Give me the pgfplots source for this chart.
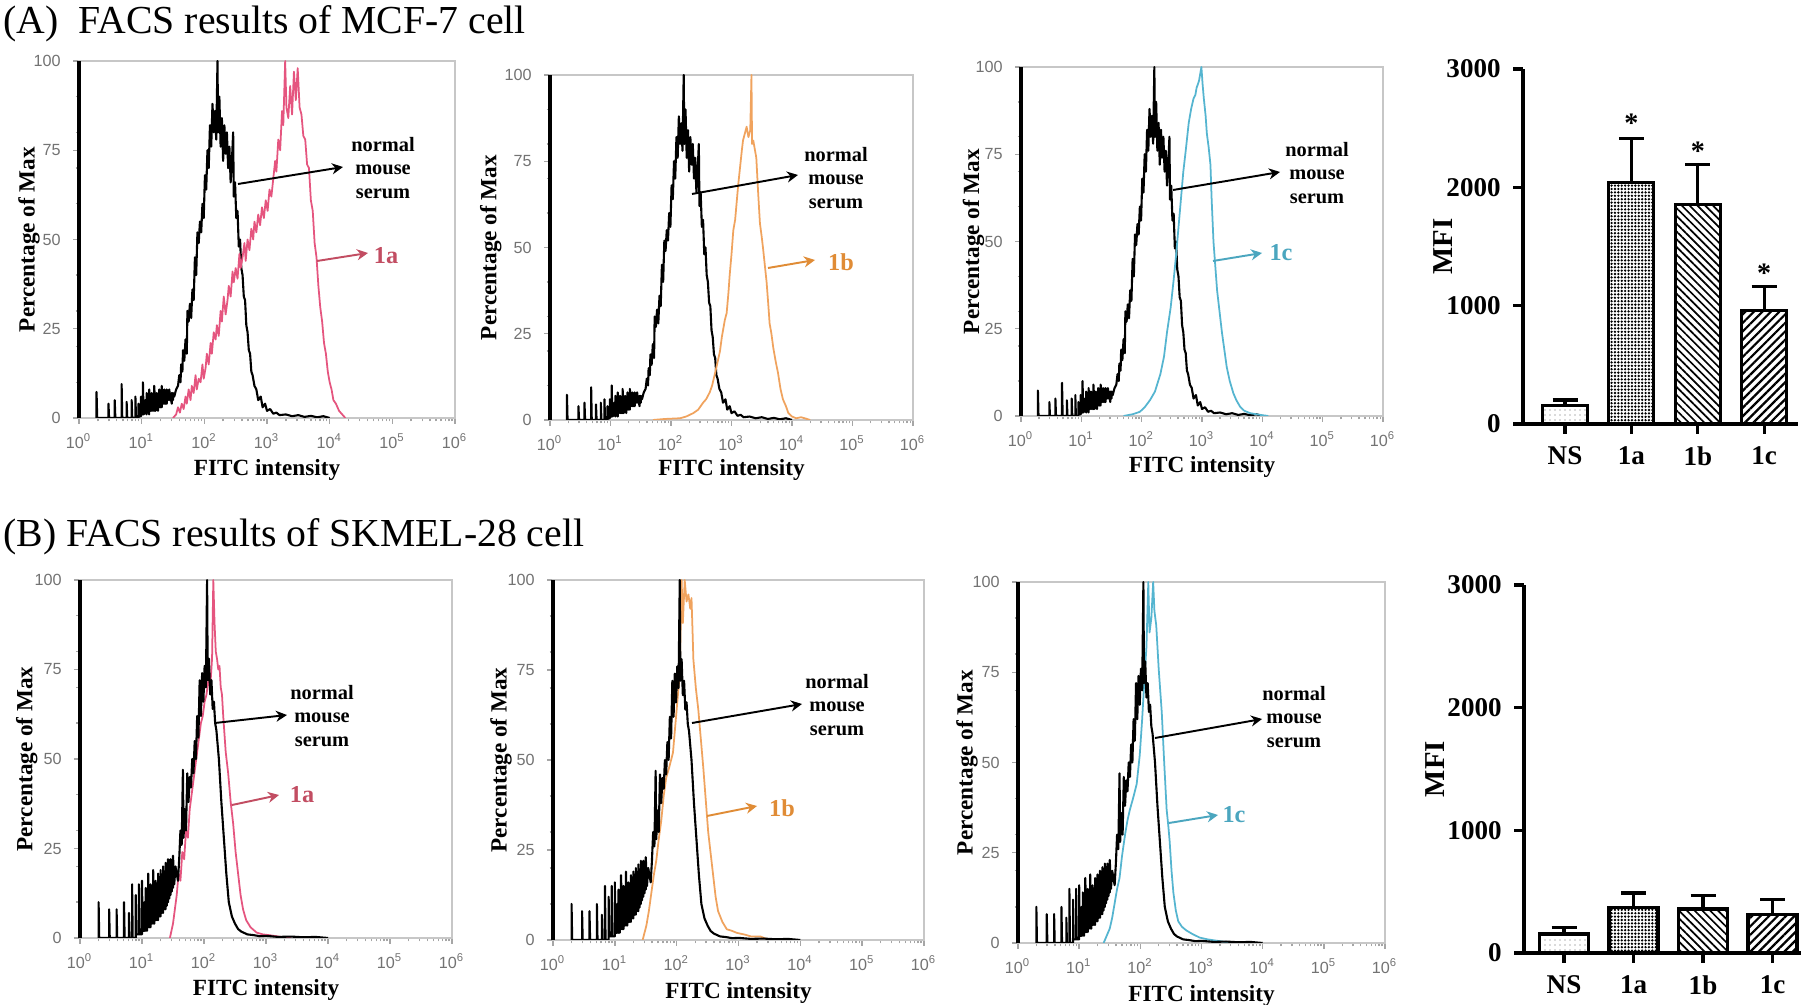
\documentclass[border=0pt]{standalone}
\usepackage{fontspec}
\setmainfont{Liberation Serif}
\newfontfamily\sansf{Liberation Sans}
\usepackage{pgfplots}
\pgfplotsset{compat=1.18}
\usepackage{pgfplotstable}
\usetikzlibrary{patterns.meta,arrows.meta}

\definecolor{pinkc}{HTML}{E5557F}
\definecolor{pinkt}{HTML}{C24D62}
\definecolor{orangec}{HTML}{F0A35E}
\definecolor{oranget}{HTML}{E08C36}
\definecolor{cyanc}{HTML}{55B5D0}
\definecolor{cyant}{HTML}{4BA6BF}

\newcommand{\tickf}{\sansf\fontsize{4.6}{5}\selectfont}
\newcommand{\labf}{\bfseries\fontsize{6.6}{7.5}\selectfont}
\newcommand{\annf}{\bfseries\fontsize{5.8}{6.6}\selectfont}
\newcommand{\numf}{\bfseries\fontsize{6.9}{8}\selectfont}
\newcommand{\barf}{\bfseries\fontsize{7.7}{9}\selectfont}

% ---------- control (normal mouse serum), MCF-7 ----------
\pgfplotstableread{
e v
0.28 0
0.28 7.3
0.29 0
0.47 0
0.47 4
0.48 0
0.57 0
0.57 5
0.58 0
0.68 0
0.68 9.5
0.69 0
0.76 0
0.76 4.5
0.77 0
0.84 0
0.84 5
0.85 0
0.90 0
0.90 6
0.91 0
0.95 0
0.95 4
0.96 0.5
0.99 0.5
0.99 6
1.00 1
1.02 1
1.02 10
1.03 1
1.06 1.5
1.06 5
1.08 1
1.08 7
1.10 1.5
1.10 4
1.12 1
1.12 8
1.14 2
1.14 5
1.16 2
1.16 7
1.18 2
1.18 4
1.20 2
1.20 9
1.22 2
1.22 5
1.24 3
1.24 7
1.26 2
1.26 6
1.28 3
1.28 8
1.30 3
1.30 5
1.32 3
1.32 9
1.34 4
1.34 6
1.36 4
1.36 8
1.38 4
1.38 6
1.40 4
1.40 8
1.42 5
1.42 7
1.44 5
1.44 8
1.46 5
1.46 6
1.48 4
1.48 7
1.50 5
1.50 7
1.52 6
1.55 8
1.58 9
1.60 12
1.62 10
1.63 15
1.65 13
1.66 19
1.68 16
1.70 22
1.72 18
1.73 30
1.75 27
1.77 32
1.79 28
1.81 36
1.83 33
1.85 45
1.87 40
1.89 52
1.91 49
1.93 55
1.95 52
1.97 60
1.99 56
2.01 68
2.03 64
2.05 75
2.07 70
2.09 82
2.11 76
2.13 88
2.15 80
2.17 86
2.19 78
2.21 100
2.22 80
2.24 90
2.26 76
2.28 84
2.30 72
2.32 82
2.34 74
2.36 80
2.38 70
2.40 76
2.42 66
2.44 72
2.46 80
2.47 62
2.49 66
2.51 56
2.53 58
2.55 48
2.57 50
2.59 42
2.61 40
2.63 34
2.65 33
2.67 26
2.69 24
2.71 19
2.73 18
2.75 13
2.77 12
2.80 9
2.83 8
2.86 5
2.90 6
2.93 3
2.97 4
3.00 2
3.05 2.5
3.10 1.2
3.15 1.5
3.20 0.8
3.30 1
3.40 0.5
3.50 0.8
3.60 0.3
3.70 0.6
3.80 0.2
3.90 0.5
4.00 0
}\ctrlA

\pgfplotstableread{
e v
1.50 0
1.55 1
1.58 3
1.61 1.5
1.64 4
1.67 2.5
1.70 6
1.72 4
1.75 8
1.78 5
1.80 9
1.83 7
1.86 12
1.88 8
1.91 11
1.94 10
1.97 15
1.99 11
2.02 14
2.04 18
2.07 15
2.10 21
2.12 18
2.15 24
2.18 22
2.20 26
2.23 23
2.26 30
2.28 27
2.31 34
2.34 29
2.37 33
2.39 37
2.42 34
2.45 41
2.47 38
2.50 42
2.53 39
2.56 46
2.58 42
2.61 45
2.64 49
2.66 44
2.69 50
2.72 47
2.75 53
2.78 50
2.80 55
2.83 52
2.86 57
2.89 54
2.92 59
2.95 56
2.98 61
3.01 58
3.04 64
3.07 62
3.10 67
3.13 72
3.15 69
3.18 78
3.21 75
3.24 86
3.26 82
3.29 100
3.31 87
3.34 84
3.37 93
3.40 85
3.43 97
3.46 89
3.49 98
3.52 87
3.55 85
3.58 79
3.61 78
3.64 71
3.67 70
3.70 61
3.73 58
3.76 49
3.79 45
3.82 37
3.85 31
3.88 27
3.91 21
3.94 18
3.97 13
4.00 10
4.03 8
4.06 5
4.10 4
4.15 2
4.20 1
4.25 0
}\onaA

\pgfplotstableread{
e v
1.70 0
1.90 0.3
2.15 0.5
2.25 1
2.37 2
2.45 3
2.53 5
2.58 6
2.64 8
2.68 10
2.72 13
2.76 16
2.81 20
2.84 24
2.86 26
2.89 29
2.92 31
2.95 37
2.97 42
3.00 48
3.03 55
3.06 58
3.08 62
3.11 68
3.14 73
3.17 78
3.19 81
3.22 83
3.25 85
3.28 82
3.31 84
3.33 100
3.34 80
3.36 81
3.39 78
3.41 76
3.44 66
3.47 57
3.50 53
3.52 50
3.55 45
3.58 40
3.61 33
3.63 28
3.66 25
3.69 21
3.73 17
3.77 13.5
3.81 9
3.85 6
3.90 4
3.94 2
4.00 1
4.07 0.5
4.15 0.8
4.21 0.5
4.30 0
}\onbA

\pgfplotstableread{
e v
1.70 0
1.85 0.5
1.97 1.2
2.05 2.5
2.14 4.6
2.22 7
2.31 12
2.37 17
2.42 24
2.48 31
2.53 39
2.57 46
2.61 54
2.65 62
2.69 70
2.73 76
2.78 84
2.82 88
2.86 91
2.89 92
2.91 94
2.95 96
2.99 100
3.01 95
3.03 91
3.06 86
3.08 81
3.11 77
3.14 72
3.16 62
3.19 50
3.22 43
3.25 36
3.29 30
3.33 24
3.37 19
3.41 14
3.46 10
3.52 6.5
3.57 4.5
3.63 2.7
3.70 1.5
3.80 0.8
3.97 0.3
4.10 0
}\oncA

% ---------- control, SKMEL-28 ----------
\pgfplotstableread{
e v
0.30 0
0.30 10
0.31 0
0.47 0
0.47 8
0.48 0
0.59 0
0.59 8
0.60 0
0.71 0
0.71 10
0.72 0
0.79 0
0.79 7
0.80 0
0.84 0
0.84 15
0.85 0
0.90 0
0.90 12
0.91 1
0.95 1
0.95 15
0.96 1
1.00 1
1.00 16
1.01 2
1.04 2
1.04 10
1.06 2
1.06 14
1.08 2
1.08 11
1.10 3
1.10 18
1.12 3
1.12 12
1.14 3
1.14 15
1.16 4
1.16 11
1.18 4
1.18 19
1.20 4
1.20 13
1.22 5
1.22 16
1.24 5
1.24 12
1.26 5
1.26 18
1.28 6
1.28 14
1.30 6
1.30 19
1.32 7
1.32 15
1.34 7
1.34 20
1.36 8
1.36 16
1.38 8
1.38 21
1.40 9
1.40 17
1.42 10
1.42 22
1.44 11
1.44 18
1.46 12
1.46 22
1.48 13
1.48 19
1.50 14
1.50 23
1.52 15
1.54 20
1.56 18
1.58 16
1.60 22
1.62 30
1.64 26
1.66 47
1.67 28
1.69 36
1.71 30
1.73 46
1.75 38
1.77 45
1.79 42
1.81 50
1.83 46
1.85 55
1.87 50
1.89 62
1.91 56
1.93 72
1.95 62
1.97 74
1.99 66
2.01 76
2.03 70
2.05 100
2.06 72
2.08 78
2.10 68
2.12 72
2.14 64
2.16 66
2.18 60
2.20 58
2.24 50
2.28 38
2.32 28
2.36 18
2.40 10
2.45 6
2.50 4
2.55 2.5
2.60 1.8
2.70 1
2.80 0.8
2.90 0.5
3.00 0.6
3.20 0.3
3.40 0.4
3.60 0.2
3.80 0.3
4.00 0
}\ctrlB

\pgfplotstableread{
e v
1.45 0
1.50 4
1.53 8
1.56 12
1.59 18
1.62 16
1.65 24
1.68 22
1.71 30
1.74 28
1.77 36
1.80 40
1.83 44
1.86 48
1.89 52
1.92 56
1.95 60
1.98 62
2.01 66
2.04 68
2.07 72
2.10 70
2.13 78
2.15 100
2.17 88
2.19 80
2.21 78
2.23 75
2.25 76
2.27 70
2.29 68
2.31 62
2.35 52
2.39 46
2.43 38
2.47 32
2.51 24
2.55 18
2.59 12
2.63 8
2.68 5
2.75 3
2.85 1.5
2.95 1
3.05 0.8
3.20 0.4
3.40 0
}\onaB

\pgfplotstableread{
e v
1.45 0
1.51 4
1.55 8
1.59 13
1.63 18
1.67 22
1.71 28
1.75 33
1.79 40
1.83 45
1.88 48
1.94 52
1.98 60
2.02 68
2.05 74
2.08 100
2.10 88
2.13 100
2.16 94
2.19 96
2.22 92
2.24 95
2.26 84
2.27 78
2.31 70
2.35 64
2.39 56
2.43 48
2.47 39
2.51 30
2.55 24
2.59 18
2.63 12
2.67 8
2.74 5
2.81 3
2.90 2.5
2.97 2
3.10 1.5
3.20 1
3.35 1
3.50 0
}\onbB

\pgfplotstableread{
e v
1.40 0
1.50 4
1.54 7
1.58 11
1.62 15
1.66 18
1.70 24
1.75 30
1.79 34
1.83 37
1.88 40
1.94 44
1.99 52
2.03 62
2.07 74
2.10 82
2.13 100
2.15 86
2.18 90
2.21 100
2.23 92
2.26 88
2.30 76
2.35 64
2.39 50
2.43 37
2.46 32
2.48 28
2.51 20
2.54 14
2.58 9
2.62 6
2.68 4.5
2.75 3.5
2.85 2.5
2.97 1.5
3.10 1
3.30 0.5
3.50 0
}\oncB

\pgfplotsset{
  hist/.style={
    scale only axis, anchor=south west,
    xmin=0, xmax=6, ymin=0, ymax=100,
    axis line style={draw=black!22, line width=0.5pt},
    xtick={0,1,2,3,4,5,6},
    xticklabels={10\textsuperscript{0},10\textsuperscript{1},10\textsuperscript{2},10\textsuperscript{3},10\textsuperscript{4},10\textsuperscript{5},10\textsuperscript{6}},
    minor xtick={0.301,0.477,0.602,0.699,0.778,0.845,0.903,0.954,
      1.301,1.477,1.602,1.699,1.778,1.845,1.903,1.954,
      2.301,2.477,2.602,2.699,2.778,2.845,2.903,2.954,
      3.301,3.477,3.602,3.699,3.778,3.845,3.903,3.954,
      4.301,4.477,4.602,4.699,4.778,4.845,4.903,4.954,
      5.301,5.477,5.602,5.699,5.778,5.845,5.903,5.954},
    ytick={0,25,50,75,100},
    yticklabels={0,25,50,75,100},
    minor ytick={10,20,30,40,60,70,80,90},
    tick align=outside, tick pos=left,
    major tick length=0.6mm, minor tick length=0.35mm,
    tick style={black!35, line width=0.4pt},
    tick label style={font=\tickf, text=black!55},
    xticklabel style={yshift=0.25mm},
    label style={font=\labf},
    xlabel={FITC intensity},
    ylabel={Percentage of Max},
    xlabel style={at={(axis description cs:0.5,-0.146)}, anchor=center},
  },
  ctrl/.style={black, line width=0.6pt, line join=round},
  onl/.style={line width=0.5pt, line join=round},
  bars/.style={
    scale only axis, anchor=south west,
    ymin=0, ymax=3000,
    axis x line*=bottom, axis y line*=left,
    axis line style={-, line width=0.9pt},
    ytick={0,1000,2000,3000}, yticklabels={0,1000,2000,3000},
    xtick={0,1,2,3}, xticklabels={NS,1a,1b,1c},
    tick align=outside, major tick length=1.0mm,
    tick style={black, line width=0.9pt},
    tick label style={font=\barf},
    ylabel={MFI},
    ylabel style={font=\bfseries\fontsize{8.2}{9}\selectfont, anchor=center},
    clip=false,
  },
  bar/.style={ybar, bar shift=0pt, draw=black, line width=0.9pt,
    error bars/y dir=plus, error bars/y explicit,
    error bars/error bar style={line width=0.9pt, solid},
    error bars/error mark options={rotate=90, mark size=1.25mm, line width=0.9pt}},
}

\begin{document}
\begin{tikzpicture}
\fill[white] (0,0) rectangle (181mm,100.5mm);
\path[use as bounding box] (0,0) rectangle (181mm,100.5mm);

\node[anchor=base west, inner sep=0, font=\fontsize{11.3}{13}\selectfont] at (0.3mm,97.1mm) {(A)\ \ FACS results of MCF-7 cell};
\node[anchor=base west, inner sep=0, font=\fontsize{11.3}{13}\selectfont] at (0.3mm,45.8mm) {(B) FACS results of SKMEL-28 cell};

% ===== A1 =====
\begin{axis}[hist, name=a1, at={(7.9mm,58.7mm)}, width=37.6mm, height=35.7mm,
  ylabel style={at={(axis description cs:-0.133,0.5)}, anchor=center}]
\addplot[ctrl] table {\ctrlA};
\addplot[onl, pinkc] table {\onaA};
\end{axis}
\draw[black, line width=0.9pt] (a1.south west) -- (a1.north west);

% ===== A2 =====
\begin{axis}[hist, name=a2, at={(55.0mm,58.5mm)}, width=36.3mm, height=34.5mm,
  ylabel style={at={(axis description cs:-0.163,0.5)}, anchor=center}]
\addplot[ctrl] table {\ctrlA};
\addplot[onl, orangec] table {\onbA};
\end{axis}
\draw[black, line width=0.9pt] (a2.south west) -- (a2.north west);

% ===== A3 =====
\begin{axis}[hist, name=a3, at={(102.1mm,58.9mm)}, width=36.2mm, height=34.9mm,
  ylabel style={at={(axis description cs:-0.131,0.5)}, anchor=center}]
\addplot[ctrl] table {\ctrlA};
\addplot[onl, cyanc] table {\oncA};
\end{axis}
\draw[black, line width=0.9pt] (a3.south west) -- (a3.north west);

% ===== B1 =====
\begin{axis}[hist, name=b1, at={(8.0mm,6.7mm)}, width=37.2mm, height=35.8mm,
  ylabel style={at={(axis description cs:-0.143,0.5)}, anchor=center}]
\addplot[onl, pinkc] table {\onaB};
\addplot[ctrl] table {\ctrlB};
\end{axis}
\draw[black, line width=0.9pt] (b1.south west) -- (b1.north west);

% ===== B2 =====
\begin{axis}[hist, name=b2, at={(55.3mm,6.5mm)}, width=37.1mm, height=36.0mm,
  ylabel style={at={(axis description cs:-0.140,0.5)}, anchor=center}]
\addplot[onl, orangec] table {\onbB};
\addplot[ctrl] table {\ctrlB};
\end{axis}
\draw[black, line width=0.9pt] (b2.south west) -- (b2.north west);

% ===== B3 =====
\begin{axis}[hist, name=b3, at={(101.8mm,6.2mm)}, width=36.7mm, height=36.1mm,
  ylabel style={at={(axis description cs:-0.139,0.5)}, anchor=center}]
\addplot[onl, cyanc] table {\oncB};
\addplot[ctrl] table {\ctrlB};
\end{axis}
\draw[black, line width=0.9pt] (b3.south west) -- (b3.north west);

% ===== Bar A =====
\begin{axis}[bars, at={(152.3mm,58.1mm)}, width=27.5mm, height=35.5mm,
  xmin=-0.633, xmax=3.51,
  ylabel style={at={(axis description cs:-0.291,0.5)}}]
\addplot[bar, bar width=4.5mm, pattern={Dots[distance=0.5mm, radius=0.07mm]}, pattern color=black!60] coordinates {(0,155) +- (0,48)};
\addplot[bar, bar width=4.5mm, pattern={Dots[distance=0.34mm, radius=0.13mm]}] coordinates {(1,2040) +- (0,375)};
\addplot[bar, bar width=4.5mm, pattern={Lines[angle=-45, distance=0.55mm, line width=0.17mm]}] coordinates {(2,1857) +- (0,338)};
\addplot[bar, bar width=4.5mm, pattern={Lines[angle=45, distance=0.6mm, line width=0.22mm]}] coordinates {(3,958) +- (0,202)};
\node[font=\bfseries\fontsize{8}{8}\selectfont, inner sep=0] at (axis cs:1,2540) {*};
\node[font=\bfseries\fontsize{8}{8}\selectfont, inner sep=0] at (axis cs:2,2305) {*};
\node[font=\bfseries\fontsize{8}{8}\selectfont, inner sep=0] at (axis cs:3,1275) {*};
\end{axis}

% ===== Bar B =====
\begin{axis}[bars, at={(152.4mm,5.2mm)}, width=27.7mm, height=36.8mm,
  xmin=-0.576, xmax=3.41,
  ylabel style={at={(axis description cs:-0.321,0.5)}}]
\addplot[bar, bar width=4.9mm, pattern={Dots[distance=0.5mm, radius=0.07mm]}, pattern color=black!60] coordinates {(0,155) +- (0,53)};
\addplot[bar, bar width=4.9mm, pattern={Dots[distance=0.34mm, radius=0.13mm]}] coordinates {(1,371) +- (0,118)};
\addplot[bar, bar width=4.9mm, pattern={Lines[angle=-45, distance=0.55mm, line width=0.17mm]}] coordinates {(2,358) +- (0,109)};
\addplot[bar, bar width=4.9mm, pattern={Lines[angle=45, distance=0.6mm, line width=0.22mm]}] coordinates {(3,312) +- (0,122)};
\end{axis}

% ===== annotations (pixel coordinates of the 1810x1005 layout) =====
\begin{scope}[x=0.1mm, y=-0.1mm, shift={(0,100.5mm)}]
\tikzset{arr/.style={line width=0.55pt, -{Stealth[length=1.1mm, width=1.1mm]}}}
% A1
\draw[arr, black] (238,184) -- (343,167);
\node[font=\annf, align=center] at (383,168) {normal\\mouse\\serum};
\draw[arr, pinkt] (317,261) -- (368,253);
\node[font=\numf, text=pinkt] at (386,256) {1a};
% A2
\draw[arr, black] (692,194) -- (798,175);
\node[font=\annf, align=center] at (836,178) {normal\\mouse\\serum};
\draw[arr, oranget] (768,268) -- (815,260);
\node[font=\numf, text=oranget] at (841,262) {1b};
% A3
\draw[arr, black] (1173,190) -- (1280,172);
\node[font=\annf, align=center] at (1317,173) {normal\\mouse\\serum};
\draw[arr, cyant] (1213,261) -- (1262,253);
\node[font=\numf, text=cyant] at (1281,253) {1c};
% B1
\draw[arr, black] (215,723) -- (287,715);
\node[font=\annf, align=center] at (322,716) {normal\\mouse\\serum};
\draw[arr, pinkt] (232,805) -- (279,795);
\node[font=\numf, text=pinkt] at (302,795) {1a};
% B2
\draw[arr, black] (692,723) -- (802,704);
\node[font=\annf, align=center] at (837,705) {normal\\mouse\\serum};
\draw[arr, oranget] (707,816) -- (757,806);
\node[font=\numf, text=oranget] at (782,808) {1b};
% B3
\draw[arr, black] (1155,738) -- (1262,719);
\node[font=\annf, align=center] at (1294,717) {normal\\mouse\\serum};
\draw[arr, cyant] (1169,823) -- (1218,815);
\node[font=\numf, text=cyant] at (1234,815) {1c};
\end{scope}
\end{tikzpicture}
\end{document}
